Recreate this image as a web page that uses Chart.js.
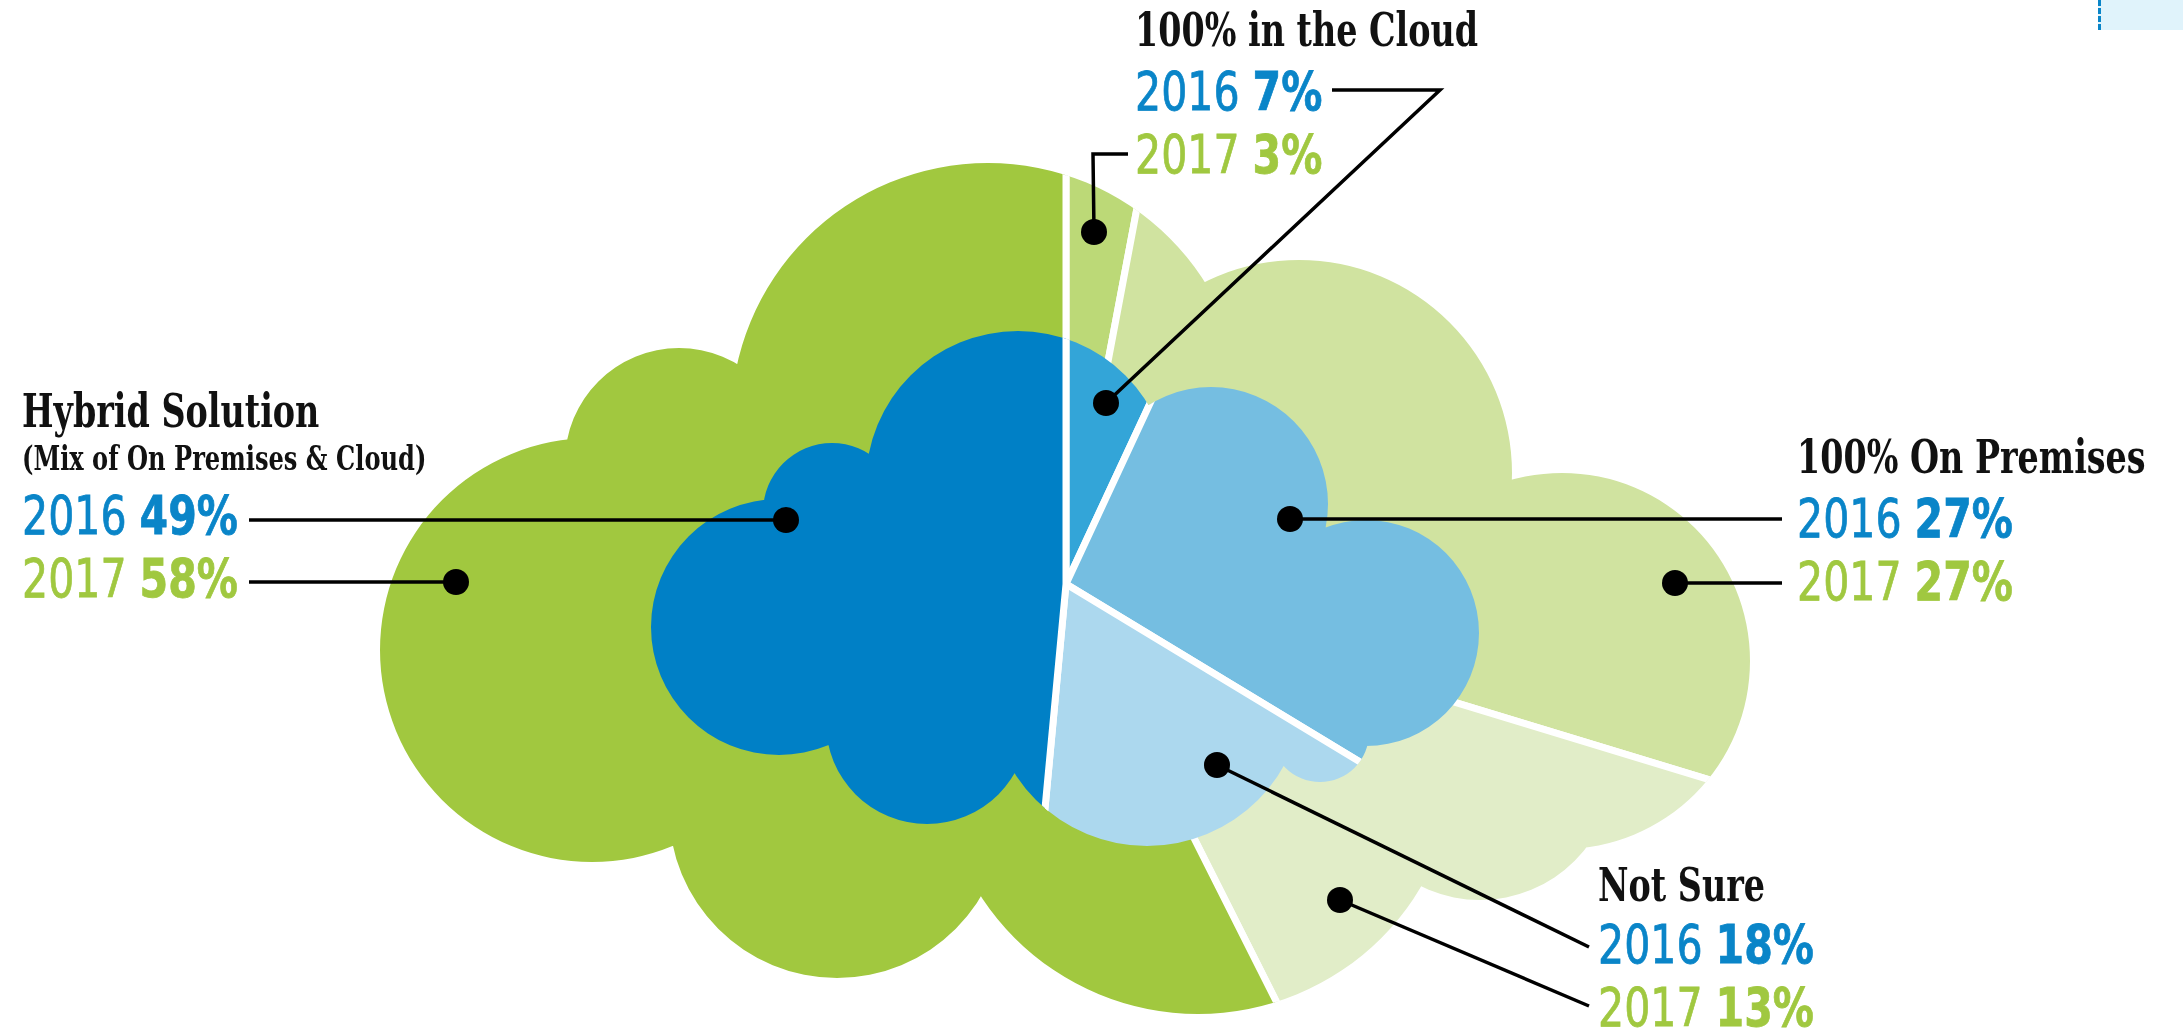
<!DOCTYPE html>
<html>
<head>
<meta charset="utf-8">
<script src="https://cdn.jsdelivr.net/npm/chart.js@4.4.1/dist/chart.umd.min.js"></script>
<style>
  html, body { margin: 0; padding: 0; background: #fff; }
  #stage { position: relative; width: 2183px; height: 1033px; overflow: hidden; }
  .pie { position: absolute; left: 316px; top: -166px; width: 1500px; height: 1500px; }
  #lines { position: absolute; left: 0; top: 0; }
  .lbl { position: absolute; white-space: nowrap; line-height: 1; transform-origin: 0 0; }
  .title { font-family: "DejaVu Serif", serif; font-weight: 700; color: #111; transform: scaleX(0.71); }
  .num { font-family: "DejaVu Sans", sans-serif; transform: scaleX(0.775); -webkit-text-stroke: 0.8px currentColor; }
  .num b { font-weight: 700; }
  #tab { position: absolute; left: 2098px; top: 0; width: 85px; height: 30px; background: #e0f3fb;
         border-left: 3px dashed #0a85c8; box-sizing: border-box; }
</style>
</head>
<body>
<div id="stage">
  <div class="pie"><canvas id="outerChart" width="1500" height="1500"></canvas></div>
  <div class="pie"><canvas id="innerChart" width="1500" height="1500"></canvas></div>
  <svg id="lines" width="2183" height="1033"></svg>
  <div id="tab"></div>
</div>
<script>
const categories = ['100% in the Cloud', '100% On Premises', 'Not Sure', 'Hybrid Solution'];
const subtitles = ['', '', '', '(Mix of On Premises & Cloud)'];
const years = ['2016', '2017'];
const values2016 = [7, 27, 18, 49];
const values2017 = [3, 27, 13, 58];
const colors2016 = ['#33a5d8', '#75bee1', '#acd8ee', '#0080c6'];
const colors2017 = ['#bcd977', '#d0e3a0', '#e1edc8', '#a1c83f'];
const yearColors = ['#0a85c8', '#a0c840'];

// cloud outlines as unions of circles: [dx, dy, r] from the pie centre
const outerCloud = [
  [-78, -164, 257], [-387, -122, 114], [-474, 66, 212], [-229, 226, 168],
  [132, 171, 259], [414, 182, 134], [496, 77, 188], [233, -111, 213], [0, 14, 278]
];
const innerCloud = [
  [-48, -101, 152], [-234, -72, 69], [-287, 43, 128], [-139, 139, 101],
  [81, 105, 157], [254, 149, 49], [300, 49, 113], [145, -80, 117], [-1, 15, 181]
];

function cloudClip(circles) {
  return {
    id: 'cloudClip',
    beforeDatasetsDraw(chart) {
      const arc = chart.getDatasetMeta(0).data[0];
      const ctx = chart.ctx;
      ctx.save();
      ctx.beginPath();
      circles.forEach(([dx, dy, r]) => {
        ctx.moveTo(arc.x + dx + r, arc.y + dy);
        ctx.arc(arc.x + dx, arc.y + dy, r, 0, Math.PI * 2);
      });
      ctx.clip();
    },
    afterDatasetsDraw(chart) {
      chart.ctx.restore();
    }
  };
}

function makePie(id, values, colors, circles) {
  return new Chart(document.getElementById(id).getContext('2d'), {
    type: 'pie',
    data: {
      labels: categories,
      datasets: [{
        data: values,
        backgroundColor: colors,
        borderColor: '#ffffff',
        borderWidth: 7
      }]
    },
    options: {
      responsive: false,
      animation: false,
      events: [],
      layout: { padding: 0 },
      plugins: { legend: { display: false }, tooltip: { enabled: false } }
    },
    plugins: [cloudClip(circles)]
  });
}

makePie('outerChart', values2017, colors2017, outerCloud);
makePie('innerChart', values2016, colors2016, innerCloud);

// label blocks: x, baselines for title / subtitle / 2016 / 2017
const labelPos = [
  { x: 1135, title: 46, y16: 110, y17: 173 },
  { x: 1797, title: 473, y16: 537, y17: 600 },
  { x: 1598, title: 901, y16: 963, y17: 1026 },
  { x: 22, title: 427, sub: 470, y16: 534, y17: 597 }
];
const titleSize = 47, subSize = 34, numSize = 53;

const stage = document.getElementById('stage');
function addText(cls, html, x, baseline, size, color) {
  const d = document.createElement('div');
  d.className = 'lbl ' + cls;
  d.innerHTML = html;
  d.style.left = x + 'px';
  d.style.top = (baseline - 0.85 * size) + 'px';
  d.style.fontSize = size + 'px';
  if (color) d.style.color = color;
  stage.appendChild(d);
}

categories.forEach((c, i) => {
  const p = labelPos[i];
  addText('title', c, p.x, p.title, titleSize);
  if (subtitles[i]) addText('title', subtitles[i], p.x, p.sub, subSize);
  addText('num', years[0] + ' <b>' + values2016[i] + '%</b>', p.x, p.y16, numSize, yearColors[0]);
  addText('num', years[1] + ' <b>' + values2017[i] + '%</b>', p.x, p.y17, numSize, yearColors[1]);
});

// leader lines ending in dots
const leaders = [
  [[1128, 154], [1093, 154], [1094, 232]],
  [[1332, 90], [1440, 90], [1106, 403]],
  [[249, 520], [786, 520]],
  [[249, 582], [456, 582]],
  [[1782, 519], [1290, 519]],
  [[1782, 583], [1675, 583]],
  [[1589, 947], [1217, 765]],
  [[1589, 1006], [1340, 900]]
];
let svg = '';
leaders.forEach(pts => {
  svg += '<polyline fill="none" stroke="#000" stroke-width="3.5" points="' +
    pts.map(p => p.join(',')).join(' ') + '"/>';
  const end = pts[pts.length - 1];
  svg += '<circle cx="' + end[0] + '" cy="' + end[1] + '" r="13" fill="#000"/>';
});
document.getElementById('lines').innerHTML = svg;
</script>
</body>
</html>
